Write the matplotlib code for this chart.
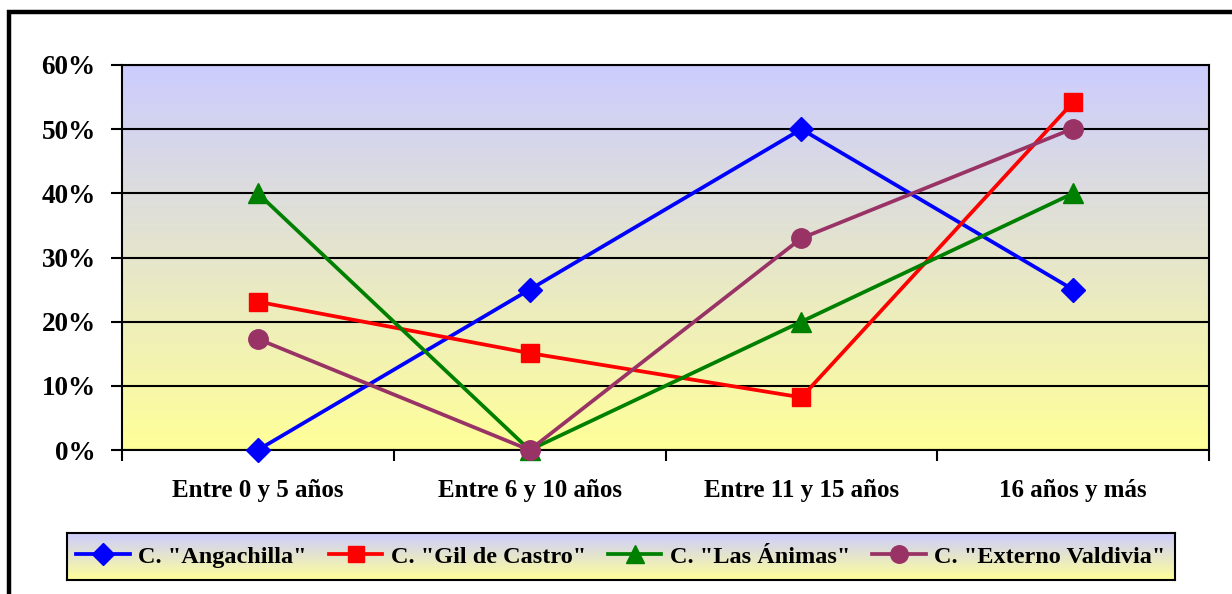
import numpy as np
import matplotlib
matplotlib.use("Agg")
import matplotlib.pyplot as plt
from matplotlib.patches import Rectangle
from matplotlib.ticker import FuncFormatter, MultipleLocator

plt.rcParams['font.family'] = ['Liberation Serif', 'DejaVu Serif']
plt.rcParams['font.weight'] = 'bold'

# Datos: porcentaje por rango de años
categorias = ['Entre 0 y 5 años', 'Entre 6 y 10 años', 'Entre 11 y 15 años', '16 años y más']
angachilla = [0.0, 25.0, 50.0, 25.0]
gil_de_castro = [23.1, 15.1, 8.2, 54.2]
las_animas = [40.0, 0.0, 20.0, 40.0]
externo_valdivia = [17.3, 0.0, 33.0, 50.1]

series = [
    ('C. "Angachilla"', angachilla, '#0000FF', 'D', 12),
    ('C. "Gil de Castro"', gil_de_castro, '#FF0000', 's', 13),
    ('C. "Las Ánimas"', las_animas, '#008000', '^', 15),
    ('C. "Externo Valdivia"', externo_valdivia, '#993366', 'o', 14),
]

W, H = 1232, 594
fig = plt.figure(figsize=(W / 100, H / 100), dpi=100)
fig.patch.set_facecolor('white')

# degradado lavanda -> amarillo
top_col = np.array([0.80, 0.80, 1.00])
bot_col = np.array([1.00, 1.00, 0.60])
t = np.linspace(0, 1, 256)[:, None]
grad = (top_col[None, :] * (1 - t) + bot_col[None, :] * t)[:, None, :]

def px(x0, y0, x1, y1):
    # caja en pixeles (origen arriba-izquierda) -> fracciones de figura
    return [x0 / W, 1 - y1 / H, (x1 - x0) / W, (y1 - y0) / H]

# marco exterior
fig.patches.append(Rectangle((8.5 / W, -0.1), 1.2, 1.1 - 12.5 / H, transform=fig.transFigure,
                             fill=False, edgecolor='black', linewidth=3.2, zorder=0))

ax = fig.add_axes(px(122, 65, 1209, 450))
ax.imshow(grad, extent=[0, 4, 0, 60], aspect='auto', zorder=0, interpolation='bilinear')
ax.set_xlim(0, 4)
ax.set_ylim(0, 60)

xs = np.arange(len(categorias)) + 0.5
for label, vals, color, marker, ms in series:
    ax.plot(xs, vals, color=color, linewidth=2.7, marker=marker, markersize=ms,
            markeredgecolor=color, markerfacecolor=color, label=label, zorder=3,
            clip_on=False)

ax.yaxis.set_major_locator(MultipleLocator(10))
ax.yaxis.set_major_formatter(FuncFormatter(lambda v, p: f'{v:.0f}%'))
ax.set_xticks([0, 1, 2, 3, 4])
ax.set_xticklabels([])
ax.set_xticks(xs, minor=True)
ax.set_xticklabels(categorias, minor=True)
ax.tick_params(axis='x', which='minor', length=0, pad=21, labelsize=18)
ax.tick_params(axis='x', which='major', direction='out', length=8, width=1.5)
ax.tick_params(axis='y', direction='out', length=8, width=1.5, pad=11, labelsize=19.5)
ax.grid(axis='y', color='black', linewidth=1.5, zorder=1)
ax.set_axisbelow(False)
for s in ax.spines.values():
    s.set_linewidth(1.5)
    s.set_color('black')
    s.set_zorder(2)

# leyenda con fondo degradado
lax = fig.add_axes(px(67, 533, 1175, 580))
lax.imshow(grad, extent=[0, 1, 0, 1], aspect='auto', interpolation='bilinear')
lax.set_xticks([])
lax.set_yticks([])
for s in lax.spines.values():
    s.set_linewidth(1.5)
handles, labels = ax.get_legend_handles_labels()
lax.legend(handles, labels, loc='center', ncol=4, frameon=False, fontsize=17.5,
           handlelength=2.2, handletextpad=0.35, columnspacing=0.9, borderpad=0,
           markerscale=0.9)

fig.savefig('out.png', dpi=100)
